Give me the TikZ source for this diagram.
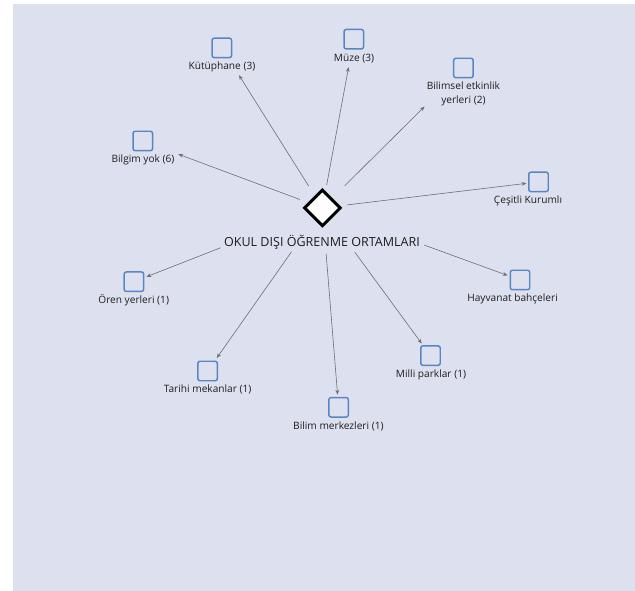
\documentclass[tikz,border=0pt]{standalone}
\usepackage{fontspec}
\setmainfont{Open Sans}
\usetikzlibrary{arrows.meta,shapes.geometric,shadows}
\definecolor{canvas}{HTML}{DDE0EF}
\definecolor{boxblue}{HTML}{5686C4}
\definecolor{edgegray}{HTML}{6E6E72}
\definecolor{ink}{HTML}{1E1E1E}

\begin{document}
\begin{tikzpicture}[x=0.75pt,y=-0.75pt,
  code/.style={draw=boxblue, line width=1.1pt, rounded corners=1.6pt,
    minimum size=14.6pt, inner sep=0pt},
  caption/.style={font=\fontsize{7.6}{10.5}\selectfont, text=ink,
    inner sep=0pt, align=center},
  hubtext/.style={font=\fontsize{9.4}{11}\selectfont, text=ink, inner sep=0pt},
  link/.style={draw=edgegray, line width=0.45pt,
    -{Stealth[length=3.6pt,width=2.8pt]}},
]
\useasboundingbox (0,0) rectangle (635,591);
\fill[canvas] (13,4) rectangle (635,591);

% central network node
\node[diamond, aspect=1, draw=black, line width=2.2pt, fill=white,
  inner sep=0pt, minimum width=27.6pt, minimum height=27.6pt,
  drop shadow={shadow xshift=0.9pt, shadow yshift=-0.9pt, fill=black!55, opacity=0.55}]
  (hub) at (322.4,207.9) {};
\node[hubtext] (hubl) at (322,242) {OKUL DIŞI ÖĞRENME ORTAMLARI};

% code boxes
\node[code] (b1)  at (142.8,141.0) {};
\node[code] (b2)  at (221.8,47.9)  {};
\node[code] (b3)  at (353.8,39.2)  {};
\node[code] (b4)  at (463.4,68.0)  {};
\node[code] (b5)  at (538.5,181.9) {};
\node[code] (b6)  at (520.0,280.0) {};
\node[code] (b7)  at (430.5,355.6) {};
\node[code] (b8)  at (338.6,407.3) {};
\node[code] (b9)  at (207.6,371.0) {};
\node[code] (b10) at (133.9,281.7) {};

% code captions
\node[caption] (l1)  at (143,160.2)   {Bilgim yok (6)};
\node[caption] (l2)  at (222,66.7)    {Kütüphane (3)};
\node[caption] (l3)  at (354,58.4)    {Müze (3)};
\node[caption] (l4)  at (463.4,94.0)  {Bilimsel etkinlik\\yerleri (2)};
\node[caption] (l5)  at (528,200.5)   {Çeşitli Kurumlı};
\node[caption] (l6)  at (512.6,299)   {Hayvanat bahçeleri};
\node[caption] (l7)  at (431,374.7)   {Milli parklar (1)};
\node[caption] (l8)  at (338.4,426)   {Bilim merkezleri (1)};
\node[caption] (l9)  at (207.6,389.4) {Tarihi mekanlar (1)};
\node[caption] (l10) at (133.7,300.4) {Ören yerleri (1)};

% links from the network node
\draw[link, shorten <=18.1pt, shorten >=28.4pt] (hub.center) -- (b1.center);
\draw[link, shorten <=19.5pt, shorten >=24.2pt] (hub.center) -- (b2.center);
\draw[link, shorten <=17.6pt, shorten >=21.3pt] (hub.center) -- (b3.center);
\draw[link, shorten <=23.5pt, shorten >=41.0pt] (hub.center) -- (b4.center);
\draw[link, shorten <=18.7pt, shorten >=9.1pt]  (hub.center) -- (b5.center);
\draw[link, shorten <=81.3pt, shorten >=9.9pt]  (hub.center) -- (b6.center);
\draw[link, shorten <=41.2pt, shorten >=11.2pt] (hub.center) -- (b7.center);
\draw[link, shorten <=34.5pt, shorten >=9.5pt]  (hub.center) -- (b8.center);
\draw[link, shorten <=40.2pt, shorten >=11.9pt] (hub.center) -- (b9.center);
\draw[link, shorten <=82.0pt, shorten >=10.1pt] (hub.center) -- (b10.center);
\end{tikzpicture}
\end{document}
